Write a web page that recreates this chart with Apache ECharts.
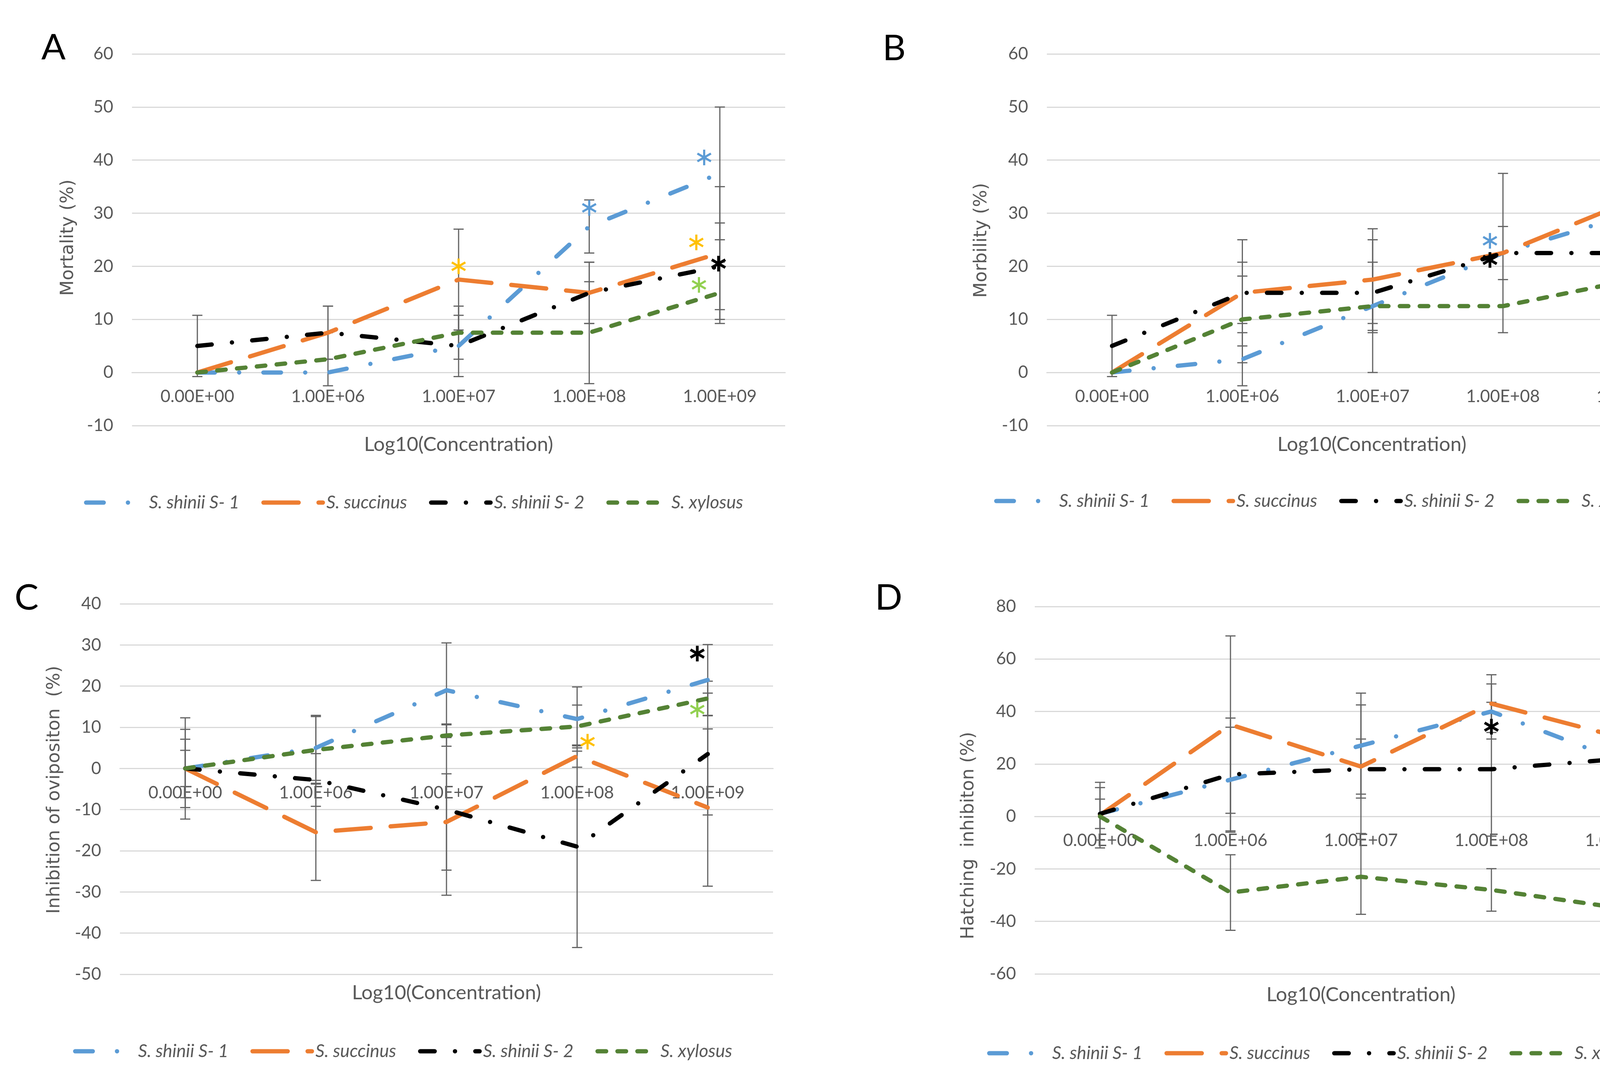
<!DOCTYPE html>
<html>
<head>
<meta charset="utf-8">
<script src="https://cdn.jsdelivr.net/npm/echarts@6/dist/echarts.min.js"></script>
<style>
html,body{margin:0;padding:0;background:#ffffff;}
#chart{width:4360px;height:2784px;}
</style>
</head>
<body>
<div id="chart"></div>
<script>
// ---------------- DATA ----------------
const categories = ['0.00E+00', '1.00E+06', '1.00E+07', '1.00E+08', '1.00E+09'];
const seriesNames = ['S. shinii S- 1', 'S. succinus', 'S. shinii S- 2', 'S. xylosus'];

// A: Mortality (%)
const mortS1 = [0, 0, 5, 27.5, 37.5];
const mortS1Err = [0, 0, 0, 5, 12.5];
const mortSucc = [0, 7.5, 17.5, 15, 22.5];
const mortSuccErr = [0, 5, 9.5, 5.77, 12.5];
const mortS2 = [5, 7.5, 5, 15, 20];
const mortS2Err = [5.77, 5, 5.77, 5.77, 8.16];
const mortXyl = [0, 2.5, 7.5, 7.5, 15];
const mortXylErr = [0, 5, 5, 9.6, 5.77];
const mortStars = [[3, 31], [4, 40.5], [2, 20], [4, 24.5], [4, 20.5], [4, 16.5]];
const mortStarKind = [0, 0, 1, 1, 2, 3];

// B: Morbility (%)
const morbS1 = [0, 2.5, 12.5, 22.5, 30];
const morbS1Err = [0, 5, 12.5, 5, 14.1];
const morbSucc = [0, 15, 17.5, 22.5, 32.5];
const morbSuccErr = [0, 10, 9.57, 15, 18.9];
const morbS2 = [5, 15, 15, 22.5, 22.5];
const morbS2Err = [5.77, 5.77, 5.77, 0, 5];
const morbXyl = [0, 10, 12.5, 12.5, 17.5];
const morbXylErr = [0, 8.16, 5, 0, 12.6];
const morbStars = [[3, 24.8], [3, 21.2], [4, 34], [4, 34.7], [4, 24.3], [4, 20.3]];
const morbStarKind = [0, 2, 1, 0, 2, 3];

// C: Inhibition of oviposition (%)
const ovS1 = [0, 5, 19, 12, 21.5];
const ovS1Err = [7.1, 7.9, 11.5, 7.8, 8.6];
const ovSucc = [0, -15.5, -13, 3, -9.5];
const ovSuccErr = [12.3, 11.7, 11.7, 2.7, 19.1];
const ovS2 = [0, -2.8, -10, -19, 3.5];
const ovS2Err = [9.5, 6.4, 20.8, 24.5, 14.8];
const ovXyl = [0, 4.5, 8, 10.2, 17];
const ovXylErr = [4.4, 8.1, 2.6, 5.2, 4.2];
const ovStars = [[3, 6.5], [4, 27.9], [4, 14.3]];
const ovStarKind = [1, 2, 3];

// D: Hatching inhibition (%)
const hatS1 = [1, 14, 27, 40, 21];
const hatS1Err = [10, 20, 20, 10.5, 23];
const hatSucc = [0.5, 35, 19, 43, 30];
const hatSuccErr = [12.5, 33.8, 10.5, 11, 13.9];
const hatS2 = [1, 16, 18, 18, 22];
const hatS2Err = [5.6, 21.5, 24.5, 25.5, 11.3];
const hatXyl = [0, -29, -23, -28, -35];
const hatXylErr = [0, 14.4, 14.3, 8.1, 15.3];
const hatStars = [[3, 34.2], [4, -28.1]];
const hatStarKind = [2, 3];

// y-axis tick settings
const yTicksA = {min: -10, max: 60, interval: 10};
const yTicksB = {min: -10, max: 60, interval: 10};
const yTicksC = {min: -50, max: 40, interval: 10};
const yTicksD = {min: -60, max: 80, interval: 20};

// ---------------- STYLE / LAYOUT ----------------
const lineColors = ['#5B9BD5', '#ED7D31', '#000000', '#548235'];
const lineDashes = [[45, 62, 0.1, 62], [90, 51], [37, 52, 0.1, 52], [22, 29]];
const starColors = ['#5B9BD5', '#FFC000', '#000000', '#92D050'];
const LW = 11;

const panels = [
  {
    letter: 'A', yTitle: 'Mortality (%)', ticks: yTicksA,
    means: [mortS1, mortSucc, mortS2, mortXyl], errs: [mortS1Err, mortSuccErr, mortS2Err, mortXylErr],
    stars: mortStars, starKind: mortStarKind, starShift: [0, -0.12, 0, -0.18, -0.01, -0.16],
    grid: {left: 338, top: 138, width: 1672, height: 951},
    letterPos: [137, 122], yTitlePos: [175, 608], xTitlePos: [1174, 1138],
    legend: {left: 210, top: 1258}
  },
  {
    letter: 'B', yTitle: 'Morbility (%)', ticks: yTicksB,
    means: [morbS1, morbSucc, morbS2, morbXyl], errs: [morbS1Err, morbSuccErr, morbS2Err, morbXylErr],
    stars: morbStars, starKind: morbStarKind, starShift: [-0.1, -0.1, -0.11, 0, 0, -0.05],
    grid: {left: 2680, top: 138, width: 1668, height: 951},
    letterPos: [2289, 124], yTitlePos: [2513, 615], xTitlePos: [3512, 1138],
    legend: {left: 2540, top: 1254}
  },
  {
    letter: 'C', yTitle: 'Inhibition of ovipositon\u00a0\u00a0(%)', ticks: yTicksC,
    means: [ovS1, ovSucc, ovS2, ovXyl], errs: [ovS1Err, ovSuccErr, ovS2Err, ovXylErr],
    stars: ovStars, starKind: ovStarKind, starShift: [0.08, -0.08, -0.08],
    grid: {left: 307, top: 1545, width: 1672, height: 948},
    letterPos: [68, 1530], yTitlePos: [140, 2021], xTitlePos: [1143, 2541],
    legend: {left: 182, top: 2662}
  },
  {
    letter: 'D', yTitle: 'Hatching\u00a0\u00a0inhibiton (%)', ticks: yTicksD,
    means: [hatS1, hatSucc, hatS2, hatXyl], errs: [hatS1Err, hatSuccErr, hatS2Err, hatXylErr],
    stars: hatStars, starKind: hatStarKind, starShift: [0, -0.08],
    grid: {left: 2649, top: 1552, width: 1670, height: 940},
    letterPos: [2275, 1530], yTitlePos: [2480, 2138], xTitlePos: [3484, 2546],
    legend: {left: 2522, top: 2667}
  }
];

const TEXT_GRAY = '#595959';
const GRID_GRAY = '#d9d9d9';
const TICK_FONT = 'Lato, "Open Sans", sans-serif';

function errRender(params, api) {
  const x = api.value(0), lo = api.value(1), hi = api.value(2);
  if (!(hi - lo > 0)) return {type: 'group', children: []};
  const p1 = api.coord([x, hi]);
  const p2 = api.coord([x, lo]);
  const cw = 13;
  const st = {stroke: '#636363', lineWidth: 3};
  return {
    type: 'group',
    children: [
      {type: 'line', shape: {x1: p1[0], y1: p1[1], x2: p2[0], y2: p2[1]}, style: st},
      {type: 'line', shape: {x1: p1[0] - cw, y1: p1[1], x2: p1[0] + cw, y2: p1[1]}, style: st},
      {type: 'line', shape: {x1: p2[0] - cw, y1: p2[1], x2: p2[0] + cw, y2: p2[1]}, style: st}
    ]
  };
}

function makeStarRender(kinds, shifts) {
  return function (params, api) {
    const i = params.dataIndex;
    const p = api.coord([api.value(0), api.value(1)]);
    const band = api.size([1, 0])[0];
    const cx = p[0] + shifts[i] * band, cy = p[1];
    const k = kinds[i];
    const col = starColors[k];
    const lw = k === 2 ? 7 : 5.5;
    const r = 20;
    const children = [];
    [90, 30, 150].forEach(function (deg) {
      const a = deg * Math.PI / 180;
      const dx = Math.cos(a) * r, dy = Math.sin(a) * r;
      children.push({
        type: 'line',
        shape: {x1: cx - dx, y1: cy - dy, x2: cx + dx, y2: cy + dy},
        style: {stroke: col, lineWidth: lw, lineCap: 'butt'}
      });
    });
    return {type: 'group', children: children};
  };
}

const grids = [], xAxes = [], yAxes = [], series = [], legends = [], graphics = [];

panels.forEach(function (P, k) {
  grids.push({left: P.grid.left, top: P.grid.top, width: P.grid.width, height: P.grid.height, containLabel: false});
  // category axis sits on the zero line of the value axis (Excel style)
  const zeroOffset = -P.grid.height * (0 - P.ticks.min) / (P.ticks.max - P.ticks.min);
  xAxes.push({
    type: 'category', gridIndex: k, data: categories, boundaryGap: true,
    position: 'bottom', offset: zeroOffset,
    axisLine: {show: true, onZero: false, lineStyle: {color: GRID_GRAY, width: 3}},
    axisTick: {show: false},
    splitLine: {show: false},
    axisLabel: {color: TEXT_GRAY, fontFamily: TICK_FONT, fontSize: 44, margin: 40, interval: 0}
  });
  yAxes.push({
    type: 'value', gridIndex: k, min: P.ticks.min, max: P.ticks.max, interval: P.ticks.interval,
    axisLine: {show: false, onZero: false}, axisTick: {show: false},
    splitLine: {show: true, lineStyle: {color: GRID_GRAY, width: 3}},
    axisLabel: {color: TEXT_GRAY, fontFamily: TICK_FONT, fontSize: 44, margin: 48}
  });

  // error bars
  const errData = [];
  P.means.forEach(function (m, s) {
    m.forEach(function (v, i) {
      const e = P.errs[s][i];
      errData.push([i, v - e, v + e]);
    });
  });
  series.push({
    type: 'custom', name: 'err' + k, xAxisIndex: k, yAxisIndex: k, z: 1,
    renderItem: errRender, data: errData, encode: {x: 0, y: [1, 2]}, silent: true
  });

  // lines
  P.means.forEach(function (m, s) {
    series.push({
      type: 'line', name: seriesNames[s], xAxisIndex: k, yAxisIndex: k, data: m,
      symbol: 'none', showSymbol: false, z: 3 + s,
      lineStyle: {color: lineColors[s], width: LW, type: lineDashes[s], cap: 'round', join: 'round'},
      itemStyle: {color: lineColors[s]},
      emphasis: {disabled: true}
    });
  });

  // significance stars
  series.push({
    type: 'custom', name: 'stars' + k, xAxisIndex: k, yAxisIndex: k, z: 10,
    renderItem: makeStarRender(P.starKind, P.starShift), data: P.stars, encode: {x: 0, y: 1}, silent: true
  });

  legends.push({
    data: seriesNames, left: P.legend.left, top: P.legend.top, orient: 'horizontal',
    itemWidth: 152, itemHeight: 14, itemGap: 56, selectedMode: false,
    textStyle: {fontFamily: TICK_FONT, fontStyle: 'italic', fontSize: 46, color: TEXT_GRAY, padding: [0, 0, 0, 4]},
    itemStyle: {color: 'rgba(0,0,0,0)', borderWidth: 0, opacity: 0},
    lineStyle: {width: LW}
  });

  graphics.push({
    type: 'text', x: P.letterPos[0], y: P.letterPos[1],
    style: {text: P.letter, fontFamily: TICK_FONT, fontSize: 92, fill: '#000000',
      textAlign: 'center', align: 'center', textVerticalAlign: 'middle', verticalAlign: 'middle'}
  });
  graphics.push({
    type: 'text', x: P.yTitlePos[0], y: P.yTitlePos[1], rotation: Math.PI / 2,
    style: {text: P.yTitle, fontFamily: '"DejaVu Sans", sans-serif', fontSize: 46, fill: TEXT_GRAY,
      textAlign: 'center', align: 'center', textVerticalAlign: 'middle', verticalAlign: 'middle'}
  });
  graphics.push({
    type: 'text', x: P.xTitlePos[0], y: P.xTitlePos[1],
    style: {text: 'Log10(Concentration)', fontFamily: TICK_FONT, fontSize: 51, fill: TEXT_GRAY,
      textAlign: 'center', align: 'center', textVerticalAlign: 'middle', verticalAlign: 'middle'}
  });
});

const chart = echarts.init(document.getElementById('chart'), null, {renderer: 'canvas'});
chart.setOption({
  backgroundColor: '#ffffff',
  animation: false,
  grid: grids,
  xAxis: xAxes,
  yAxis: yAxes,
  legend: legends,
  series: series,
  graphic: graphics
});
</script>
</body>
</html>
